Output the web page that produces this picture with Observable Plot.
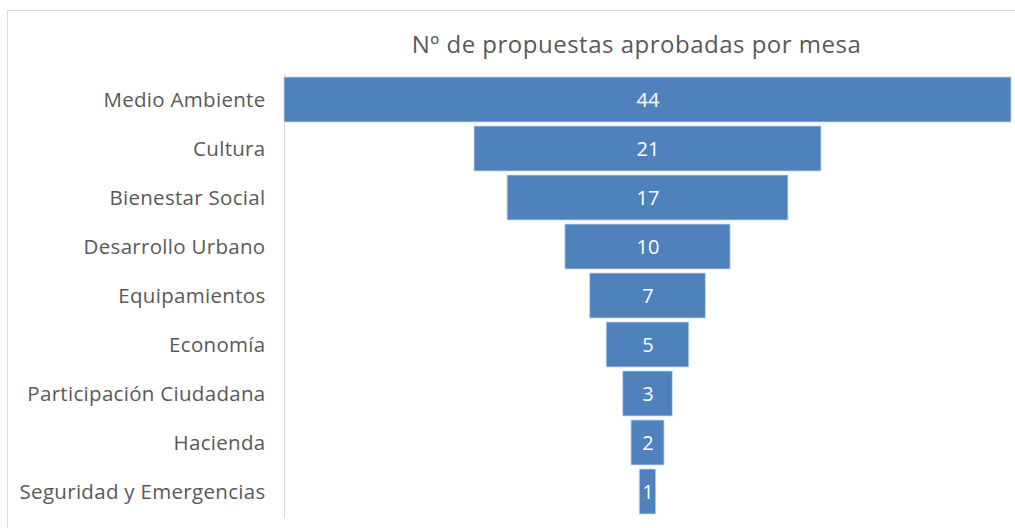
<!DOCTYPE html>
<html>
<head>
<meta charset="utf-8">
<script src="https://cdn.jsdelivr.net/npm/d3@7"></script>
<script src="https://cdn.jsdelivr.net/npm/@observablehq/plot@0.6"></script>
<style>
  html, body { margin: 0; padding: 0; background: #fff; }
  body { width: 1015px; height: 528px; position: relative; overflow: hidden; font-family: "Open Sans", sans-serif; }
  #frame { position: absolute; left: 7px; top: 10px; width: 1100px; height: 600px; border-left: 1px solid #d9d9d9; border-top: 1px solid #d9d9d9; }
  #title { position: absolute; left: 0; top: 27px; width: 1273px; text-align: center; font-size: 24px; letter-spacing: 0.5px; color: #595959; line-height: 34px; }
  #chart { position: absolute; left: 0; top: 63px; }
  #chart svg g[aria-label="y-axis tick label"] text { letter-spacing: 0.3px; }
</style>
</head>
<body>
<div id="frame"></div>
<div id="title">Nº de propuestas aprobadas por mesa</div>
<div id="chart"></div>
<script>
const categories = ["Medio Ambiente", "Cultura", "Bienestar Social", "Desarrollo Urbano", "Equipamientos", "Economía", "Participación Ciudadana", "Hacienda", "Seguridad y Emergencias"];
const values = [44, 21, 17, 10, 7, 5, 3, 2, 1];

const data = categories.map((c, i) => ({category: c, value: values[i]}));
const maxV = d3.max(values);

const chart = Plot.plot({
  width: 1015,
  height: 465,
  marginLeft: 284,
  marginRight: 4,
  marginTop: 11,
  marginBottom: 11,
  style: {fontFamily: "'Open Sans', sans-serif", background: "transparent"},
  x: {domain: [-maxV / 2, maxV / 2], axis: null},
  y: {domain: categories, paddingInner: 0.084, paddingOuter: 0.042, label: null},
  marks: [
    Plot.frame({anchor: "left", stroke: "#d9d9d9", strokeWidth: 1}),
    Plot.barX(data, {y: "category", x1: d => -d.value / 2, x2: d => d.value / 2, fill: "#4f81bd", stroke: "#c9d7ea", strokeWidth: 0.8}),
    Plot.text(data, {y: "category", x: 0, dy: 1, text: d => String(d.value), fill: "white", fontSize: 20}),
    Plot.axisY({tickSize: 0, tickPadding: 19, fontSize: 20.5, color: "#595959", label: null})
  ]
});
document.getElementById("chart").appendChild(chart);
</script>
</body>
</html>
